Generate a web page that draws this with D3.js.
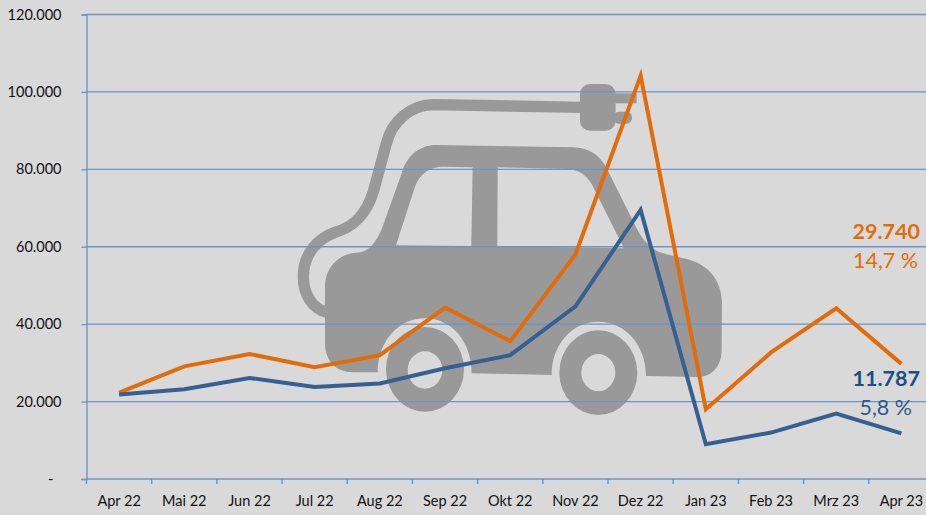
<!DOCTYPE html>
<html>
<head>
<meta charset="utf-8">
<script src="https://cdn.jsdelivr.net/npm/d3@7"></script>
<style>
  html, body { margin: 0; padding: 0; background: #d9d9d9; overflow: hidden; }
  svg { display: block; font-family: Lato, "Open Sans", sans-serif; }
</style>
</head>
<body>
<script>
const months = ['Apr 22','Mai 22','Jun 22','Jul 22','Aug 22','Sep 22','Okt 22','Nov 22','Dez 22','Jan 23','Feb 23','Mrz 23','Apr 23']
const orange_values = [22300,29100,32300,28900,32000,44300,35600,58000,104200,18000,32700,44100,29740]
const blue_values = [21800,23200,26100,23800,24700,28600,32000,44600,69500,9000,12000,16900,11787]
const y_ticks = [0,20000,40000,60000,80000,100000,120000]
const orange_labels = ['29.740','14,7 %']
const blue_labels = ['11.787','5,8 %']

const width = 926
const height = 515
const margin = {top: 14.5, left: 86.5, bottom: 36, right: -8}
const orange = '#e36c0a'
const blue = '#366092'
const grid_color = '#6a94cd'

const de = d3.formatLocale({decimal: ',', thousands: '.', grouping: [3], currency: ['', ' €']})
const fmt = de.format(',d')

const svg = d3.select('body').append('svg')
  .attr('width', width)
  .attr('height', height)
  .attr('viewBox', '0,0,'+width+','+height)

svg.append('rect').attr('width', width).attr('height', height).attr('fill', '#d9d9d9')

const x = d3.scaleBand()
  .domain(months)
  .range([margin.left, width - margin.right])

const y = d3.scaleLinear()
  .domain([0, 120000])
  .range([height - margin.bottom, margin.top])

// car icon behind the chart, traced in the zoomed crop's coordinates
const icon = svg.append('g')
  .attr('transform', 'translate(290,70) scale(0.3333)')
  .attr('fill', '#999999')

icon.append('path')
  .attr('fill', 'none')
  .attr('stroke', '#999999')
  .attr('stroke-width', 34)
  .attr('d', 'M110,727 C65,715 40,670 40,620 C40,550 85,505 135,487 C195,470 230,430 250,365 L288,225 C305,150 365,105 430,104 L880,112')

icon.append('path')
  .attr('fill-rule', 'evenodd')
  .attr('d', 'M105,650 C105,590 150,550 200,548 C240,548 265,510 285,450 L335,310 C350,255 390,225 440,225 L850,232 C895,233 930,255 950,295 L1040,475 C1065,525 1095,545 1130,553 L1180,565 C1255,580 1295,630 1296,700 L1295,840 C1295,890 1265,920 1225,921 L1068,918 C1068,825 1005,755 925,755 C845,755 785,825 785,915 L545,910 C545,815 485,745 405,745 C325,745 263,815 263,907 L190,907 C135,907 105,870 105,820 Z'
    + ' M318,526 L375,350 C390,310 420,290 460,290 L548,292 L544,528 Z'
    + ' M623,292 L830,297 C865,298 890,315 905,342 L1002,535 L622,528 Z')

icon.append('path')
  .attr('fill-rule', 'evenodd')
  .attr('d', 'M288,898 a117,127 0 1,0 234,0 a117,127 0 1,0 -234,0 Z M353,900 a52,56 0 1,0 104,0 a52,56 0 1,0 -104,0 Z')

icon.append('path')
  .attr('fill-rule', 'evenodd')
  .attr('d', 'M808,908 a117,127 0 1,0 234,0 a117,127 0 1,0 -234,0 Z M874,908 a51,56 0 1,0 102,0 a51,56 0 1,0 -102,0 Z')

icon.append('rect')
  .attr('x', 870).attr('y', 42).attr('width', 107).attr('height', 140).attr('rx', 30)
icon.append('rect')
  .attr('x', 970).attr('y', 70).attr('width', 70).attr('height', 30)
icon.append('rect')
  .attr('x', 970).attr('y', 125).attr('width', 56).attr('height', 36).attr('rx', 16)

// gridlines
svg.append('g')
  .selectAll('line').data(y_ticks).enter().append('line')
    .attr('x1', margin.left)
    .attr('x2', width)
    .attr('y1', d => y(d))
    .attr('y2', d => y(d))
    .attr('stroke', grid_color)
    .attr('stroke-width', 1.4)

const yAxis = g => g
  .attr('transform', `translate(${margin.left},0)`)
  .call(
    d3.axisLeft(y)
      .tickValues(y_ticks)
      .tickSize(5)
      .tickPadding(20)
      .tickFormat(d => d == 0 ? '-' : fmt(d))
  )
  .call(g => g.select('.domain').attr('stroke', grid_color).attr('stroke-width', 1.4))
  .call(g => g.selectAll('.tick line').attr('stroke', grid_color).attr('stroke-width', 1.4))
  .call(g => g.selectAll('.tick text').attr('fill', '#111').attr('font-size', 14.5).attr('font-family', 'Lato'))
  // the zero dash sits further left, like the accounting format does it
  .call(g => g.selectAll('.tick text').filter(d => d == 0).attr('dx', -8))

const xAxis = g => g
  .attr('transform', `translate(0,${y(0)})`)
  .call(
    d3.axisBottom(x)
      .tickSize(0)
      .tickPadding(17)
  )
  .call(g => g.select('.domain').remove())
  .call(g => g.selectAll('.tick text').attr('fill', '#111').attr('font-size', 14.5).attr('font-family', 'Lato'))

svg.append('g').call(yAxis)
svg.append('g').call(xAxis)

// x ticks sit between the categories
svg.append('g')
  .selectAll('line').data(months).enter().append('line')
    .attr('x1', d => x(d))
    .attr('x2', d => x(d))
    .attr('y1', y(0))
    .attr('y2', y(0) + 5)
    .attr('stroke', grid_color)
    .attr('stroke-width', 1.4)

const line = d3.line()
  .x((d, i) => x(months[i]) + x.bandwidth() / 2)
  .y(d => y(d))

svg.append('path').datum(orange_values)
  .attr('fill', 'none')
  .attr('stroke', orange)
  .attr('stroke-width', 4)
  .attr('stroke-linejoin', 'miter')
  .attr('d', line)

svg.append('path').datum(blue_values)
  .attr('fill', 'none')
  .attr('stroke', blue)
  .attr('stroke-width', 4)
  .attr('stroke-linejoin', 'miter')
  .attr('d', line)

// end labels
const end_labels = svg.append('g')
  .attr('text-anchor', 'end')
  .attr('font-size', 21.5)

end_labels.append('text').attr('x', 920).attr('y', 239).attr('fill', orange).attr('font-weight', 700).text(orange_labels[0])
end_labels.append('text').attr('x', 918).attr('y', 268).attr('fill', orange).text(orange_labels[1])
end_labels.append('text').attr('x', 920).attr('y', 386).attr('fill', '#1f4e84').attr('font-weight', 700).text(blue_labels[0])
end_labels.append('text').attr('x', 912).attr('y', 415).attr('fill', '#2f5a8e').text(blue_labels[1])
</script>
</body>
</html>
